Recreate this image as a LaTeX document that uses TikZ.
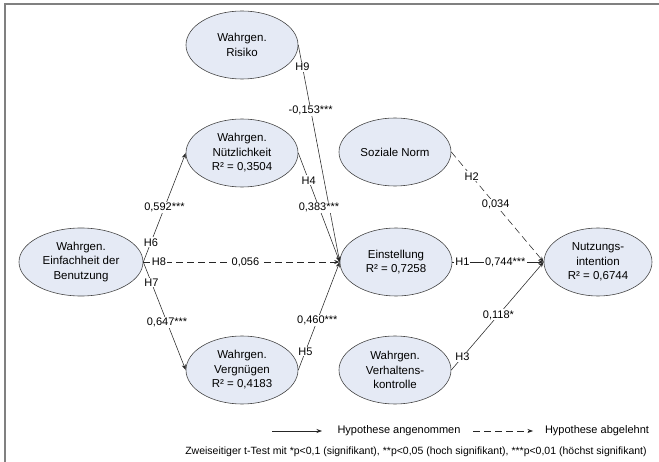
\documentclass[tikz,border=0pt]{standalone}
\usepackage{fontspec}
\setmainfont{Liberation Sans}
\usetikzlibrary{shapes.geometric,arrows.meta}
\definecolor{ellfill}{RGB}{229,234,245}
\definecolor{ellline}{RGB}{70,70,70}
\definecolor{framecol}{RGB}{128,128,128}
\begin{document}
\begin{tikzpicture}[x=1pt,y=-1pt,
  construct/.style={ellipse,draw=ellline,fill=ellfill,line width=0.6pt,inner sep=0pt,
    minimum width=112pt,minimum height=68pt,align=center,font=\fontsize{11.5}{14.5}\selectfont},
  conn/.style={draw=black!85,line width=0.55pt,-{Stealth[length=5.5pt,width=4pt]}},
  rejected/.style={conn,dash pattern=on 7pt off 4pt},
  lab/.style={fill=white,inner sep=1pt,font=\fontsize{11}{13}\selectfont},
  legtext/.style={font=\fontsize{11}{13}\selectfont,inner sep=0pt}]
\useasboundingbox (0,0) rectangle (659,462);
\draw[framecol,line width=2pt] (5,462) -- (5,4) -- (659,4);

\node[construct] (ris) at (242,45) {Wahrgen.\\Risiko};
\node[construct] (nue) at (242,153) {Wahrgen.\\Nützlichkeit\\R² = 0,3504};
\node[construct] (soz) at (395,152) {Soziale Norm};
\node[construct,minimum width=124pt] (ein) at (81,262) {Wahrgen.\\Einfachheit der\\Benutzung};
\node[construct] (est) at (396,262) {Einstellung\\R² = 0,7258};
\node[construct,minimum width=108pt] (nut) at (598,262) {Nutzungs-\\intention\\R² = 0,6744};
\node[construct] (ver) at (242,370) {Wahrgen.\\Vergnügen\\R² = 0,4183};
\node[construct] (vhk) at (395,370) {Wahrgen.\\Verhaltens-\\kontrolle};

\draw[conn] (ein.east) -- node[lab,pos=0.18]{H6} node[lab,pos=0.5]{0,592***} (nue.west);
\draw[conn] (ein.east) -- node[lab,pos=0.19]{H7} node[lab,pos=0.56]{0,647***} (ver.west);
\draw[rejected] (ein.east) -- node[lab,pos=0.08]{H8} node[lab,pos=0.52]{0,056} (est.west);
\draw[conn] (ris.east) -- node[lab,pos=0.1]{H9} node[lab,pos=0.3]{-0,153***} (est.west);
\draw[conn] (nue.east) -- node[lab,pos=0.25]{H4} node[lab,pos=0.5]{0,383***} (est.west);
\draw[conn] (ver.east) -- node[lab,pos=0.17]{H5} node[lab,pos=0.46]{0,460***} (est.west);
\draw[conn] (est.east) -- node[lab,pos=0.11]{H1} node[lab,pos=0.58]{0,744***} (nut.west);
\draw[rejected] (soz.east) -- node[lab,pos=0.22]{H2} node[lab,pos=0.48]{0,034} (nut.west);
\draw[conn] (vhk.east) -- node[lab,pos=0.12]{H3} node[lab,pos=0.51]{0,118*} (nut.west);

\coordinate (la1) at (272,431);
\coordinate (la2) at (322,431);
\coordinate (lb1) at (473,431);
\coordinate (lb2) at (533,431);
\draw[conn] (la1) -- (la2);
\draw[rejected] (lb1) -- (lb2);
\node[legtext] (lta) at (399,431) {Hypothese angenommen};
\node[legtext] (ltb) at (597,431) {Hypothese abgelehnt};
\node[legtext,font=\fontsize{10.5}{13}\selectfont] (note) at (416,452) {Zweiseitiger t-Test mit *p<0,1 (signifikant), **p<0,05 (hoch signifikant), ***p<0,01 (höchst signifikant)};
\end{tikzpicture}
\end{document}
